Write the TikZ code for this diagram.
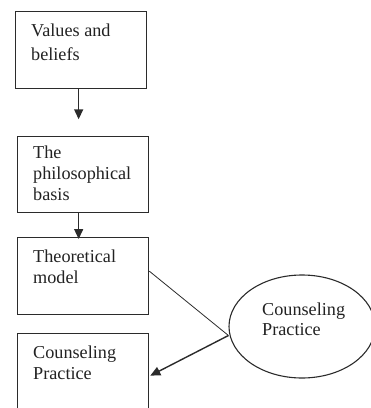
\documentclass[tikz,border=0pt]{standalone}
\usepackage{fontspec}
\setmainfont{Liberation Serif}
\usetikzlibrary{shapes.geometric,arrows.meta}
\definecolor{ink}{HTML}{2B2B2B}
\definecolor{txt}{HTML}{222222}
\tikzset{
  box/.style={draw=ink,line width=1.3pt,rectangle,inner sep=0pt,anchor=north west},
  lbl/.style={anchor=north west,inner sep=0pt,align=left,text=txt,
    font=\fontsize{18.2}{21}\selectfont},
  arr/.style={draw=ink,line width=1.4pt,-{Triangle[length=10pt,width=9pt]}},
  thin/.style={draw=ink,line width=0.8pt}
}
\begin{document}
\begin{tikzpicture}[x=1pt,y=-1pt]
\useasboundingbox (0,0) rectangle (371,408);
\node[box,minimum width=131pt,minimum height=77pt] (b1) at (15,11) {};
\node[box,minimum width=131pt,minimum height=76pt] (b2) at (17,136) {};
\node[box,minimum width=131pt,minimum height=77pt] (b3) at (17,237) {};
\node[box,minimum width=131pt,minimum height=87pt] (b4) at (17,333) {};
\node[ellipse,draw=ink,line width=1.1pt,minimum width=146pt,minimum height=103pt,inner sep=0pt] (e) at (302,326.5) {};
\node[lbl,font=\fontsize{18.2}{24}\selectfont] (t1) at (31,23.6) {Values and\\beliefs};
\node[lbl] (t2) at (33,145.6) {The\\philosophical\\basis};
\node[lbl] (t3) at (33,249.6) {Theoretical\\model};
\node[lbl] (t4) at (33,345.6) {Counseling\\Practice};
\node[lbl,font=\fontsize{18.2}{20}\selectfont] (t5) at (262,302.6) {Counseling\\Practice};
\draw[arr] ([xshift=-2.5pt]b1.south) -- ++(0,30);
\draw[arr] ([xshift=-4.5pt]b2.south) -- ([xshift=-4.5pt,yshift=-2pt]b3.north);
\draw[thin] ([yshift=5pt]b3.east) -- ([yshift=-9pt]e.west);
\draw[arr] ([yshift=-9pt]e.west) -- ([xshift=1pt,yshift=1.5pt]b4.east);
\end{tikzpicture}
\end{document}
